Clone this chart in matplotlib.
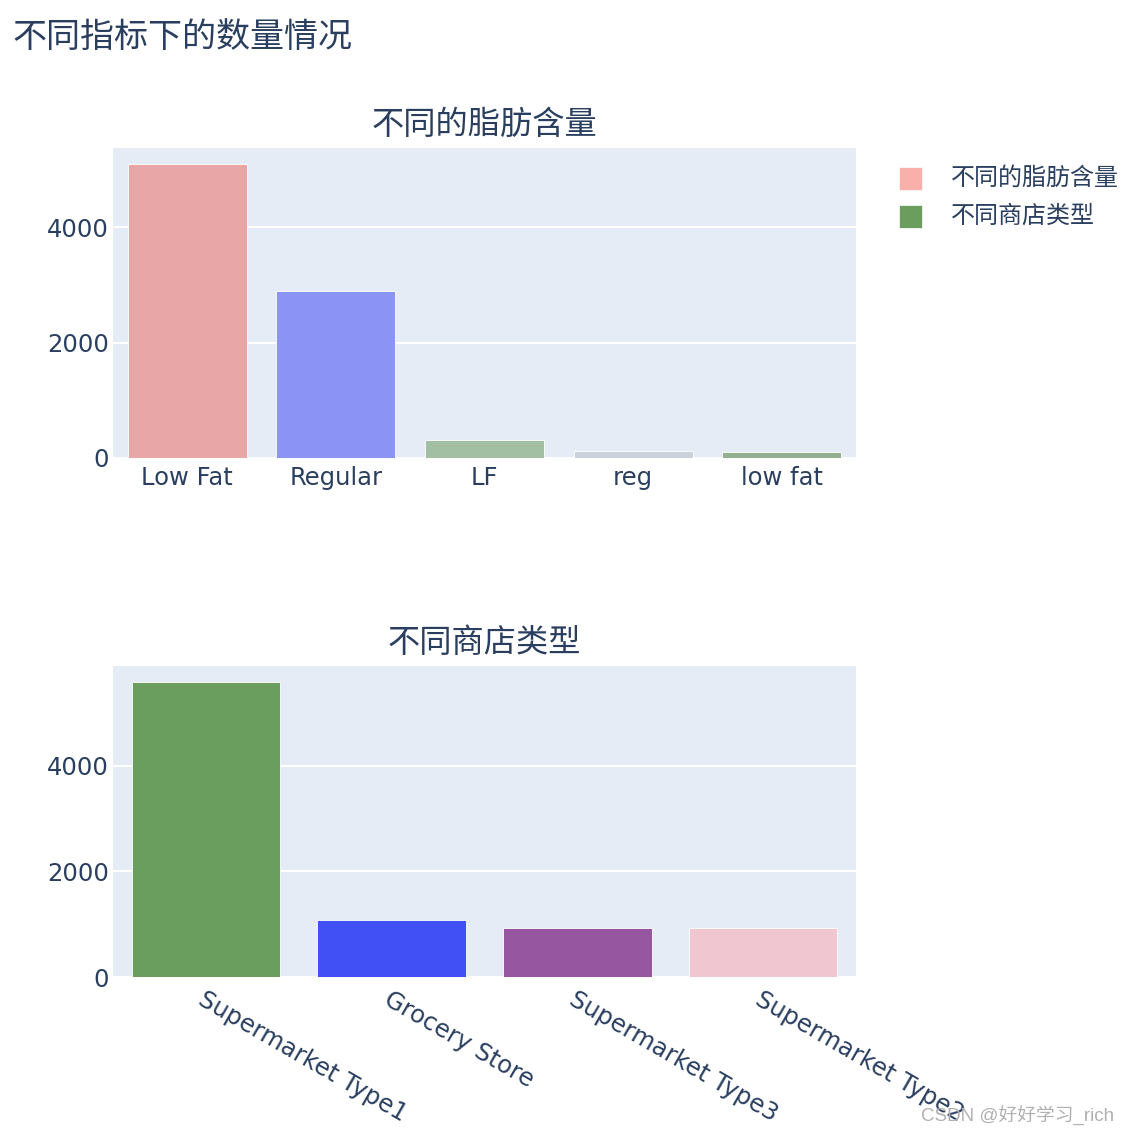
import matplotlib.pyplot as plt
import numpy as np

plt.rcParams['font.family'] = ['DejaVu Sans', 'Noto Sans CJK SC']

# data
fat_labels = ["Low Fat", "Regular", "LF", "reg", "low fat"]
fat_counts = [5089, 2889, 316, 117, 112]
fat_colors = ["#e9a6a6", "#8b93f4", "#a3bfa3", "#ccd2da", "#93b093"]

outlet_labels = ["Supermarket Type1", "Grocery Store", "Supermarket Type3", "Supermarket Type2"]
outlet_counts = [5577, 1083, 935, 928]
outlet_colors = ["#6a9e5e", "#4050f5", "#9756a0", "#f0c6d0"]

yticks = [0, 2000, 4000]
txt = "#2a3f5f"
bg = "#e5ecf6"
cjk = ['Noto Sans CJK SC', 'DejaVu Sans']

fig = plt.figure(figsize=(11.29, 11.35), dpi=100)
ax1 = fig.add_axes([0.1001, 0.5965, 0.6581, 0.2731])
ax2 = fig.add_axes([0.1001, 0.1392, 0.6581, 0.2740])


def style(ax, n, top):
    ax.set_facecolor(bg)
    for s in ax.spines.values():
        s.set_visible(False)
    ax.set_xlim(-0.5, n - 0.5)
    ax.set_ylim(0, top * 1.055)
    ax.set_yticks(yticks)
    ax.yaxis.grid(True, color="white", linewidth=1.5)
    ax.set_axisbelow(True)
    ax.tick_params(length=0, labelsize=17.5, labelcolor=txt, pad=3)


x1 = np.arange(len(fat_labels))
ax1.bar(x1, fat_counts, width=0.8, color=fat_colors, edgecolor="white", linewidth=0.6)
style(ax1, len(fat_labels), max(fat_counts))
ax1.set_xticks(x1)
ax1.set_xticklabels(fat_labels)
ax1.tick_params(axis='x', pad=6)
ax1.set_title("不同的脂肪含量", fontsize=23.2, color=txt, pad=10, family=cjk)

x2 = np.arange(len(outlet_labels))
ax2.bar(x2, outlet_counts, width=0.8, color=outlet_colors, edgecolor="white", linewidth=0.6)
style(ax2, len(outlet_labels), max(outlet_counts))
ax2.set_xticks(x2)
ax2.set_xticklabels(outlet_labels, rotation=-30, ha='left', va='top', rotation_mode='anchor')
ax2.tick_params(axis='x', pad=7)
ax2.set_title("不同商店类型", fontsize=23.2, color=txt, pad=10, family=cjk)

fig.text(12 / 1129, 1 - 37 / 1135, "不同指标下的数量情况", fontsize=24.5, color=txt, va='center', family=cjk)

# legend
leg_items = [("不同的脂肪含量", "#f9b0aa"), ("不同商店类型", "#6b9e5e")]
for i, (name, c) in enumerate(leg_items):
    yc = 178 + i * 38
    fig.patches.append(plt.Rectangle((899 / 1129, 1 - (yc + 11.5) / 1135), 23 / 1129, 23 / 1135,
                                     transform=fig.transFigure, facecolor=c, edgecolor="white", lw=0.5))
    fig.text(951 / 1129, 1 - yc / 1135, name, fontsize=17.3, color=txt, va='center', family=cjk)

fig.text(1114 / 1129, 1 - 1116 / 1135, "CSDN @好好学习_rich", fontsize=13.5, color="#b0b0b0",
         ha='right', va='center', family=['Liberation Sans Narrow', 'Liberation Sans', 'Noto Sans CJK SC'])

fig.savefig("out.png", dpi=100)
